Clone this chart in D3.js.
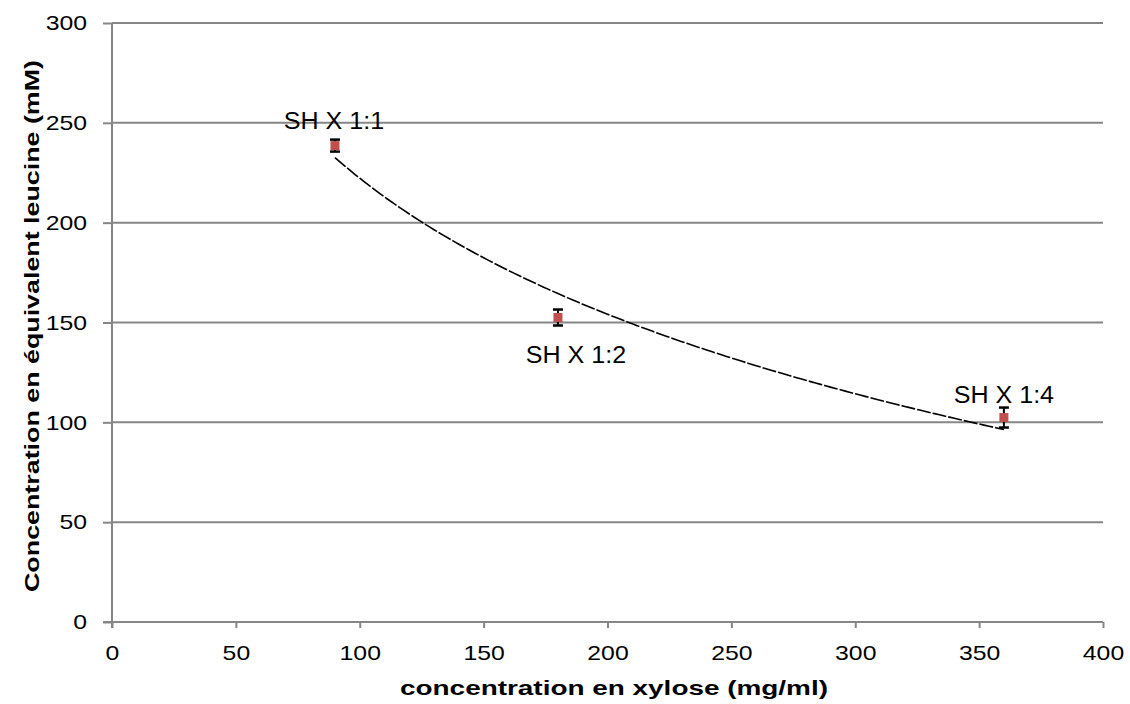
<!DOCTYPE html>
<html>
<head>
<meta charset="utf-8">
<title>Concentration en équivalent leucine</title>
<script src="https://d3js.org/d3.v7.min.js"></script>
<style>
  body { margin: 0; background: #fff; font-family: "Liberation Sans", Arial, sans-serif; }
</style>
</head>
<body>
<svg id="chart"></svg>
<script>
// data
var xylose = [90, 180, 360];
var leucine = [238.6, 152.5, 102.4];
var errors = [3, 4, 5];
var labels = ["SH X 1:1", "SH X 1:2", "SH X 1:4"];
var xTicks = [0, 50, 100, 150, 200, 250, 300, 350, 400];
var yTicks = [0, 50, 100, 150, 200, 250, 300];

var W = 1130, H = 704;
var margin = {top: 23, right: 27, bottom: 82, left: 112};
var width = W - margin.left - margin.right,
    height = H - margin.top - margin.bottom;

var svg = d3.select("#chart").attr("width", W).attr("height", H);
var g = svg.append("g").attr("transform", "translate(" + margin.left + "," + margin.top + ")");

var x = d3.scaleLinear().domain([0, 400]).range([0, width]);
var y = d3.scaleLinear().domain([0, 300]).range([height, 0]);

// the original text is a bit wider than Arial, stretch it horizontally
function stretch(sel, k) {
  sel.each(function() {
    var len = this.getComputedTextLength();
    d3.select(this).attr("textLength", len * k).attr("lengthAdjust", "spacingAndGlyphs");
  });
}

// gridlines
g.selectAll(".grid").data(yTicks.filter(function(d) { return d > 0; }))
  .enter().append("line")
  .attr("x1", 0).attr("x2", width)
  .attr("y1", function(d) { return y(d); }).attr("y2", function(d) { return y(d); })
  .style("stroke", "#868686").style("stroke-width", 2);

// y axis
var yAxis = g.append("g")
  .call(d3.axisLeft(y).tickValues(yTicks).tickSize(9).tickPadding(16));
yAxis.select(".domain").attr("d", "M0," + (height + 6) + "V0").style("stroke", "#868686").style("stroke-width", 2);
yAxis.selectAll(".tick line").style("stroke", "#868686").style("stroke-width", 2);
yAxis.selectAll("text").style("font-size", "21px").style("fill", "#000")
  .style("font-family", "'Liberation Sans', Arial, sans-serif");
stretch(yAxis.selectAll("text"), 1.18);

// x axis
var xAxis = g.append("g").attr("transform", "translate(0," + height + ")")
  .call(d3.axisBottom(x).tickValues(xTicks).tickSize(6).tickPadding(17));
xAxis.select(".domain").attr("d", "M-9,0H" + width).style("stroke", "#868686").style("stroke-width", 2);
xAxis.selectAll(".tick line").style("stroke", "#868686").style("stroke-width", 2);
xAxis.selectAll("text").style("font-size", "21px").style("fill", "#000")
  .style("font-family", "'Liberation Sans', Arial, sans-serif");
stretch(xAxis.selectAll("text"), 1.18);

// logarithmic trend line fitted to the points
var lx = xylose.map(Math.log);
var mx = d3.mean(lx), my = d3.mean(leucine);
var slope = d3.sum(lx, function(v, i) { return (v - mx) * (leucine[i] - my); }) /
            d3.sum(lx, function(v) { return (v - mx) * (v - mx); });
var icpt = my - slope * mx;
var trend = d3.range(90, 360.5, 2).map(function(v) { return [v, icpt + slope * Math.log(v)]; });
g.append("path").datum(trend)
  .attr("d", d3.line().x(function(d) { return x(d[0]); }).y(function(d) { return y(d[1]); }))
  .style("fill", "none").style("stroke", "#000").style("stroke-width", 1.6)
  .style("stroke-dasharray", "14,2");

// error bars
var pts = xylose.map(function(v, i) { return {x: v, y: leucine[i], e: errors[i], label: labels[i]}; });
var eb = g.selectAll(".eb").data(pts).enter().append("g");
eb.append("line")
  .attr("x1", function(d) { return x(d.x); }).attr("x2", function(d) { return x(d.x); })
  .attr("y1", function(d) { return y(d.y + d.e); }).attr("y2", function(d) { return y(d.y - d.e); })
  .style("stroke", "#000").style("stroke-width", 2);
eb.selectAll(".cap").data(function(d) { return [[d.x, d.y + d.e], [d.x, d.y - d.e]]; })
  .enter().append("line")
  .attr("x1", function(d) { return x(d[0]) - 5; }).attr("x2", function(d) { return x(d[0]) + 5; })
  .attr("y1", function(d) { return y(d[1]); }).attr("y2", function(d) { return y(d[1]); })
  .style("stroke", "#000").style("stroke-width", 2.5);

// markers
g.selectAll(".pt").data(pts).enter().append("rect")
  .attr("x", function(d) { return x(d.x) - 4.5; })
  .attr("y", function(d) { return y(d.y) - 4.5; })
  .attr("width", 9).attr("height", 9)
  .style("fill", "#C0504D");

// point labels
var labelOffset = [[-1, -17], [18, 45], [0, -15]];
var lbl = g.selectAll(".lbl").data(pts).enter().append("text")
  .attr("x", function(d, i) { return x(d.x) + labelOffset[i][0]; })
  .attr("y", function(d, i) { return y(d.y) + labelOffset[i][1]; })
  .attr("text-anchor", "middle")
  .style("font-size", "23px")
  .text(function(d) { return d.label; });
stretch(lbl, 1.09);

// axis titles
svg.append("text")
  .attr("x", 614).attr("y", 695)
  .attr("text-anchor", "middle").style("font-size", "21px").style("font-weight", "bold")
  .attr("textLength", 428).attr("lengthAdjust", "spacingAndGlyphs")
  .text("concentration en xylose (mg/ml)");
svg.append("text")
  .attr("transform", "translate(39,326)rotate(-90)")
  .attr("text-anchor", "middle").style("font-size", "21px").style("font-weight", "bold")
  .attr("textLength", 532).attr("lengthAdjust", "spacingAndGlyphs")
  .text("Concentration en équivalent leucine (mM)");
</script>
</body>
</html>
